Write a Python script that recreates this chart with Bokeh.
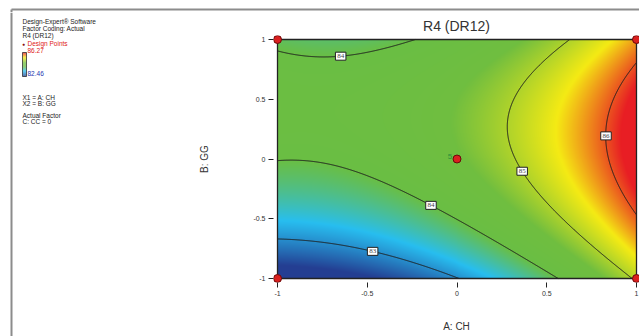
import numpy as np
from bokeh.plotting import figure
from bokeh.layouts import column, row
from bokeh.models import (Range1d, FixedTicker, NumeralTickFormatter, Label, LabelSet,
                          ColumnDataSource, InlineStyleSheet)
from bokeh.core.properties import value
from bokeh.embed import file_html
from bokeh.resources import INLINE

# ---------------- data ----------------
title_text = "R4 (DR12)"
x_axis_label = "A: CH"
y_axis_label = "B: GG"
tick_values = [-1, -0.5, 0, 0.5, 1]

# quadratic response-surface model (coded units), estimated from the plotted contours
model_terms = ["Intercept", "A", "B", "AB", "A^2", "B^2"]
model_coefs = [84.55, 1.177, 0.597, -0.267, 0.639, -0.97]

contour_levels = [83, 84, 85, 86]
label_levels = [84, 84, 83, 85, 86]
label_A = [-0.648, -0.145, -0.47, 0.363, 0.83]
label_branch = ["hi", "lo", "lo", "lo", "mid"]

design_A = [-1, -1, 1, 1, 0]
design_B = [-1, 1, -1, 1, 0]
center_replicates = "5"

response_high = 86.27
response_low = 82.46

info_header = ["Design-Expert\u00ae Software", "Factor Coding: Actual", "R4 (DR12)"]
legend_title = "Design Points"
factor_lines = ["X1 = A: CH", "X2 = B: GG"]
actual_lines = ["Actual Factor", "C: CC = 0"]

# ---------------- helpers ----------------
b0, bA, bB, bAB, bAA, bBB = model_coefs


def resp(a, b):
    return b0 + bA * a + bB * b + bAB * a * b + bAA * a * a + bBB * b * b


# colour ramp (response value -> colour), Design-Expert style palette
ramp_z = [82.46, 83.3, 84.0, 84.6, 85.45, 86.2]
ramp_rgb = [(36, 62, 146), (40, 190, 240), (106, 190, 68), (112, 190, 64), (245, 235, 20), (232, 30, 36)]


def cmap(z):
    r = np.interp(z, ramp_z, [c[0] for c in ramp_rgb])
    g = np.interp(z, ramp_z, [c[1] for c in ramp_rgb])
    b = np.interp(z, ramp_z, [c[2] for c in ramp_rgb])
    return r, g, b


FONT = "Liberation Sans"
PAGE_W, PAGE_H = 639, 336
TOP_H = 12
LEFT_W = 196
BORDER_GRAY = "#8c8c8c"
NO_SCROLL = InlineStyleSheet(css=(
    ":host { overflow: hidden !important; }"
    "* { overflow: hidden !important; scrollbar-width: none; }"
    ":host::-webkit-scrollbar, *::-webkit-scrollbar { display: none; width: 0; height: 0; }"))

# ---------------- top strip (page border) ----------------
top = figure(width=PAGE_W, height=TOP_H, output_backend="svg", toolbar_location=None,
             x_range=Range1d(0, PAGE_W), y_range=Range1d(TOP_H, 0), frame_align=False,
             min_border=0, outline_line_color=None, x_axis_type=None, y_axis_type=None,
             background_fill_color="white", border_fill_color="white")
top.grid.visible = False
top.segment(x0=[11, 11], y0=[9, 9], x1=[PAGE_W, 11], y1=[9, TOP_H], line_color=BORDER_GRAY, line_width=2)

# ---------------- left info panel ----------------
left = figure(width=LEFT_W, height=PAGE_H - TOP_H, output_backend="svg", toolbar_location=None,
              x_range=Range1d(0, LEFT_W), y_range=Range1d(PAGE_H, TOP_H), frame_align=False,
              min_border=0, outline_line_color=None, x_axis_type=None, y_axis_type=None,
              background_fill_color="white", border_fill_color="white")
left.grid.visible = False
left.segment(x0=[11], y0=[TOP_H], x1=[11], y1=[PAGE_H], line_color=BORDER_GRAY, line_width=2)


def txt(xs, ys, ss, color="#222", size="6.5px"):
    left.text(x=xs, y=ys, text=ss, text_font=value(FONT), text_font_size=value(size),
              text_color=color, text_baseline="middle", text_align="left")


txt([22] * len(info_header), [21 + 7 * i for i in range(len(info_header))], info_header)
txt([21.5], [43], ["\u25cf"], color="#8a1010", size="5px")
txt([27], [42.5], [legend_title], color="#e02020")
txt([27], [50], ["%.2f" % response_high], color="#e02020")
txt([27], [73], ["%.2f" % response_low], color="#2535b0")
txt([22] * len(factor_lines), [96.5 + 6 * i for i in range(len(factor_lines))], factor_lines)
txt([22] * len(actual_lines), [115 + 6 * i for i in range(len(actual_lines))], actual_lines)

bar_top, bar_bot = 52, 76
n_bar = bar_bot - bar_top
bar_z = [response_high - (j + 0.5) / n_bar * (response_high - response_low) for j in range(n_bar)]
br, bg, bb = cmap(np.array(bar_z))
bar_cols = ["#%02x%02x%02x" % (int(a), int(c), int(d)) for a, c, d in zip(br, bg, bb)]
left.quad(left=22, right=26, top=[bar_top + j for j in range(n_bar)],
          bottom=[bar_top + j + 1 for j in range(n_bar)], fill_color=bar_cols, line_color=None)
left.quad(left=[22], right=[26], top=[bar_top], bottom=[bar_bot], fill_color=None,
          line_color="#333", line_width=0.8)

# ---------------- main plot ----------------
PX_X, PX_Y = 179.5, 119.5
p = figure(width=PAGE_W - LEFT_W, height=PAGE_H - TOP_H, output_backend="svg", toolbar_location=None,
           x_range=Range1d(-1 - 4 / PX_X, 1 + 3 / PX_X),
           y_range=Range1d(-1 - 4 / PX_Y, 1 + 4 / PX_Y), frame_align=False,
           min_border_left=273 - LEFT_W, min_border_right=0, min_border_top=35 - TOP_H,
           min_border_bottom=PAGE_H - 282,
           outline_line_color=None, background_fill_color="white", border_fill_color="white")
p.grid.visible = False

nx, ny = 360, 240
gx = np.linspace(-1, 1, nx)
gy = np.linspace(-1, 1, ny)
GX, GY = np.meshgrid(gx, gy)
Z = resp(GX, GY)
r, g, b = cmap(Z)
img = np.empty((ny, nx), dtype=np.uint32)
view = img.view(dtype=np.uint8).reshape((ny, nx, 4))
view[:, :, 0] = r.astype(np.uint8)
view[:, :, 1] = g.astype(np.uint8)
view[:, :, 2] = b.astype(np.uint8)
view[:, :, 3] = 255
p.image_rgba(image=[img], x=tick_values[0], y=tick_values[0],
             dw=tick_values[-1] - tick_values[0], dh=tick_values[-1] - tick_values[0])

p.contour(gx, gy, Z, levels=contour_levels, line_color="#1e1e1e", line_width=1)

p.quad(left=[tick_values[0]], right=[tick_values[-1]], bottom=[tick_values[0]], top=[tick_values[-1]],
       fill_color=None, line_color="#222222", line_width=1.3)

lab_B = []
for lev, a, brn in zip(label_levels, label_A, label_branch):
    qa = bBB
    qb = bB + bAB * a
    qc = b0 + bA * a + bAA * a * a - lev
    if brn == "mid":
        lab_B.append(-qb / (2 * qa))
    else:
        d = np.sqrt(max(qb * qb - 4 * qa * qc, 0))
        roots = sorted([(-qb + d) / (2 * qa), (-qb - d) / (2 * qa)])
        lab_B.append(roots[1] if brn == "hi" else roots[0])
src = ColumnDataSource(dict(x=label_A, y=lab_B, t=["\u00a0%d\u00a0" % v for v in label_levels]))
p.add_layout(LabelSet(x="x", y="y", text="t", source=src, text_align="center", text_baseline="middle",
                      text_font=FONT, text_font_size="7px", text_color="#444",
                      background_fill_color="white", border_line_color="#222"))

p.scatter(x=design_A, y=design_B, size=8, marker="circle", fill_color="#d9201f",
          line_color="#6a0a0a", line_width=1)
p.add_layout(Label(x=design_A[4], y=design_B[4], text=center_replicates, x_offset=-7, y_offset=3,
                   text_align="center", text_baseline="middle", text_font=FONT,
                   text_font_size="8px", text_color="#2a8f3a"))

for ax in (p.xaxis[0], p.yaxis[0]):
    ax.ticker = FixedTicker(ticks=tick_values)
    ax.formatter = NumeralTickFormatter(format="0.[0]")
    ax.axis_line_color = None
    ax.major_tick_in = 0
    ax.major_tick_out = 5
    ax.minor_tick_line_color = None
    ax.major_tick_line_color = "#222"
    ax.major_label_text_font = FONT
    ax.major_label_text_font_size = "7px"
    ax.major_label_text_color = "#333"
    ax.major_label_standoff = 3
    ax.axis_label_text_font = FONT
    ax.axis_label_text_font_size = "10px"
    ax.axis_label_text_font_style = "normal"
    ax.axis_label_text_color = "#333"
p.xaxis.axis_label = x_axis_label
p.xaxis.axis_label_standoff = 22
p.yaxis.axis_label = y_axis_label
p.yaxis.axis_label_standoff = 40

p.title.text = title_text
p.title.align = "center"
p.title.text_font = FONT
p.title.text_font_size = "14px"
p.title.text_font_style = "normal"
p.title.text_color = "#333"
p.title.standoff = 4

for fig in (top, left, p):
    fig.stylesheets = [NO_SCROLL]
body = row(left, p, spacing=0, stylesheets=[NO_SCROLL])
layout = column(top, body, spacing=0, stylesheets=[NO_SCROLL])

html = file_html(layout, INLINE)
html = html.replace("</head>", "<style>html,body{overflow:hidden;scrollbar-width:none;}"
                    "::-webkit-scrollbar{display:none;width:0;height:0;}</style></head>", 1)
open("out.html", "w").write(html)
